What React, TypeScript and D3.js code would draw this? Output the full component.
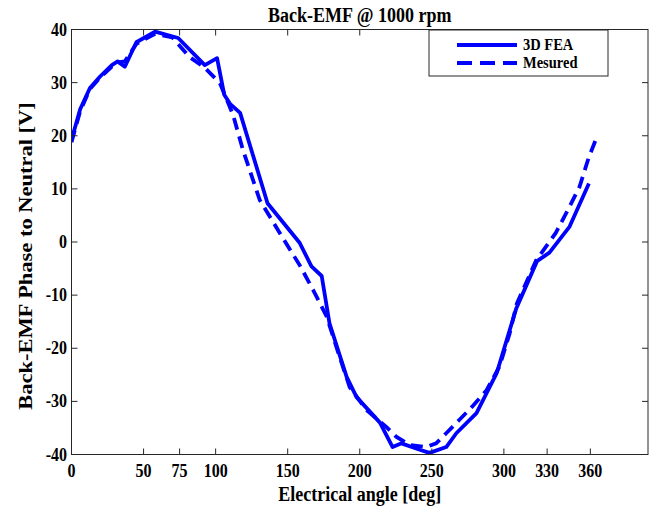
import React from "react";
import * as d3 from "d3";

const feaAngle = [0, 6, 12.8, 20, 28, 32, 37, 45, 58, 74, 92.5, 101, 106, 110, 117, 136, 158.4, 166.5, 173.6, 179, 190.9, 197.8, 214, 222.8, 229, 241.6, 248.4, 260, 267, 281, 295, 308.6, 323, 331.6, 345.6, 359];
const feaV = [19.2, 25, 29, 31.2, 33.3, 34, 33, 37.6, 39.6, 38.4, 33.3, 34.6, 27.7, 26, 24.3, 7.3, -0.2, -4.6, -6.4, -15.3, -25.4, -29.2, -34, -38.6, -37.9, -39.1, -39.7, -38.6, -36, -32.2, -24.7, -12.5, -3.6, -2, 2.9, 11];

const mesAngle = [0, 6, 12.8, 20, 28, 32, 37, 45, 58, 70, 82, 92.5, 103, 112, 119, 130.6, 144.5, 158.4, 167.6, 177, 186, 193, 204.6, 218.4, 225.5, 234.6, 246, 253, 260, 269, 278, 288, 297, 304, 309, 322.5, 336, 345.5, 352.5, 359, 364];
const mesV = [18.8, 24.6, 28.8, 31, 33, 33.8, 34, 37.3, 39.2, 38.5, 34.8, 32.8, 29.9, 24, 17.3, 7.9, 1.7, -4.4, -9, -14, -21.6, -27.3, -31.6, -34.8, -36.7, -38.2, -38.6, -37.9, -36, -33.5, -31, -27.9, -23.4, -17.2, -11.6, -3.4, 1.7, 6.6, 10.4, 16, 19.4];

const xTicks = [0, 50, 75, 100, 150, 200, 250, 300, 330, 360];
const yTicks = [-40, -30, -20, -10, 0, 10, 20, 30, 40];

const titleText = "Back-EMF @ 1000 rpm";
const xLabel = "Electrical angle [deg]";
const yLabel = "Back-EMF Phase to Neutral [V]";
const seriesNames = ["3D FEA", "Mesured"];

const W = 656, H = 507;
const left = 71.5, right = 648, top = 29.5, bottom = 454.5;
const FONT = "'Liberation Serif', 'Times New Roman', serif";
const BLUE = "#0000ff";
const AX = "#262626";
const SY = 1.2;

function T(props: { x: number; y: number; size: number; anchor?: string; children: React.ReactNode; sx?: number; sy?: number }) {
  const { x, y, size, anchor = "start", children, sx = 1, sy = SY } = props;
  return (
    <text transform={`translate(${x},${y}) scale(${sx},${sy})`} textAnchor={anchor} fontSize={size} fontWeight="bold" fill="#000">
      {children}
    </text>
  );
}

export default function App() {
  const x = d3.scaleLinear().domain([0, 400]).range([left, right]);
  const y = d3.scaleLinear().domain([-40, 40]).range([bottom, top]);
  const line = d3.line<[number, number]>().x(d => x(d[0])).y(d => y(d[1]));
  const fea = feaAngle.map((a, i) => [a, feaV[i]] as [number, number]);
  const mes = mesAngle.map((a, i) => [a, mesV[i]] as [number, number]);
  const tl = 6;
  const lgX = 429, lgY = 30, lgW = 179, lgH = 46;

  return (
    <svg width={W} height={H} style={{ position: "fixed", left: 0, top: 0, background: "#fff" }} fontFamily={FONT}>
      <rect x={0} y={0} width={W} height={H} fill="#fff" />
      <defs>
        <clipPath id="plotclip">
          <rect x={left} y={top - 3} width={right - left} height={bottom - top + 6} />
        </clipPath>
      </defs>
      <g clipPath="url(#plotclip)">
        <path d={line(fea) || ""} fill="none" stroke={BLUE} strokeWidth={3.8} strokeLinejoin="round" />
        <path d={line(mes) || ""} fill="none" stroke={BLUE} strokeWidth={3.8} strokeDasharray="12,7" />
      </g>
      <rect x={left} y={top} width={right - left} height={bottom - top} fill="none" stroke={AX} strokeWidth={1} />
      {xTicks.map(t => (
        <g key={"x" + t}>
          <line x1={x(t)} x2={x(t)} y1={bottom} y2={bottom - tl} stroke={AX} />
          <line x1={x(t)} x2={x(t)} y1={top} y2={top + tl} stroke={AX} />
          <T x={x(t)} y={477} size={16} anchor="middle">{t}</T>
        </g>
      ))}
      {yTicks.map(t => (
        <g key={"y" + t}>
          <line x1={left} x2={left + tl} y1={y(t)} y2={y(t)} stroke={AX} />
          <line x1={right} x2={right - tl} y1={y(t)} y2={y(t)} stroke={AX} />
          <T x={left - 4.5} y={y(t) + 6} size={16} anchor="end">{t}</T>
        </g>
      ))}
      <T x={(left + right) / 2 - 0} y={21.5} size={18} anchor="middle">{titleText}</T>
      <T x={(left + right) / 2} y={501} size={18} anchor="middle">{xLabel}</T>
      <text transform={`translate(32, 256) rotate(-90) scale(1.25,1)`} textAnchor="middle" fontSize={18} fontWeight="bold" fill="#000">{yLabel}</text>
      <rect x={lgX} y={lgY} width={lgW} height={lgH} fill="#fff" stroke={AX} strokeWidth={1} />
      <line x1={457} x2={517} y1={45} y2={45} stroke={BLUE} strokeWidth={3.8} />
      <line x1={457} x2={517} y1={63} y2={63} stroke={BLUE} strokeWidth={3.8} strokeDasharray="15,8" />
      <T x={523} y={50} size={14.5}>{seriesNames[0]}</T>
      <T x={523} y={68} size={14.5}>{seriesNames[1]}</T>
    </svg>
  );
}
